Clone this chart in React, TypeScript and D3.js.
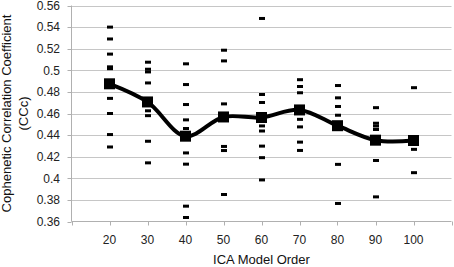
import React from "react";
import * as d3 from "d3";

const orders = [20, 30, 40, 50, 60, 70, 80, 90, 100];
const meanCCc = [0.4875, 0.4707, 0.439, 0.4568, 0.4563, 0.4633, 0.4487, 0.4353, 0.435];

const runs20 = [0.54, 0.529, 0.515, 0.5032, 0.5015, 0.474, 0.46, 0.4405, 0.429];
const runs30 = [0.5075, 0.501, 0.4985, 0.4883, 0.4625, 0.458, 0.4343, 0.4143];
const runs40 = [0.506, 0.4868, 0.4683, 0.4541, 0.4461, 0.4235, 0.4131, 0.3742, 0.3637];
const runs50 = [0.5186, 0.5087, 0.4689, 0.4295, 0.4257, 0.385];
const runs60 = [0.548, 0.4776, 0.4702, 0.4485, 0.4438, 0.4298, 0.4191, 0.3985];
const runs70 = [0.4913, 0.485, 0.4792, 0.4546, 0.4476, 0.4335, 0.4258];
const runs80 = [0.4859, 0.4745, 0.4665, 0.4584, 0.4129, 0.3767];
const runs90 = [0.4654, 0.451, 0.4484, 0.4452, 0.4165, 0.3828];
const runs100 = [0.4839, 0.4268, 0.4052];
const runsByOrder = [runs20, runs30, runs40, runs50, runs60, runs70, runs80, runs90, runs100];

const yTicks = [0.36, 0.38, 0.4, 0.42, 0.44, 0.46, 0.48, 0.5, 0.52, 0.54, 0.56];
const xTickValues = [10, 20, 30, 40, 50, 60, 70, 80, 90, 100, 110];
const xLabels = ["20", "30", "40", "50", "60", "70", "80", "90", "100"];

const W = 454;
const H = 267;
const FONT = "'Liberation Sans', Arial, Helvetica, sans-serif";

export default function App() {
  const x = d3.scaleLinear().domain([10, 110]).range([71.5, 451.5]);
  const y = d3.scaleLinear().domain([0.36, 0.56]).range([221.5, 5.5]);

  const line = d3
    .line<number>()
    .x((_, i) => x(orders[i]))
    .y((d) => y(d))
    .curve(d3.curveCatmullRom.alpha(0.5));

  const gridColor = "#c6c6c6";
  const axisColor = "#b0b0b0";

  return (
    <svg
      width={W}
      height={H}
      style={{ position: "absolute", left: 0, top: 0, background: "#fff" }}
      fontFamily={FONT}
    >
      <rect x={0} y={0} width={W} height={H} fill="#fff" />
      {/* gridlines */}
      {yTicks.slice(1).map((t) => (
        <line key={"g" + t} x1={x(10)} x2={x(110)} y1={Math.round(y(t)) + 0.5} y2={Math.round(y(t)) + 0.5} stroke={gridColor} strokeWidth={1} />
      ))}
      {/* y axis */}
      <line x1={x(10)} x2={x(10)} y1={y(0.56)} y2={y(0.36)} stroke={axisColor} strokeWidth={1} />
      {yTicks.map((t) => (
        <g key={"yt" + t}>
          <line x1={x(10) - 4} x2={x(10)} y1={Math.round(y(t)) + 0.5} y2={Math.round(y(t)) + 0.5} stroke={axisColor} />
          <text x={60} y={y(t)} dy="0.35em" textAnchor="end" fontSize={12} fill="#222">
            {String(t)}
          </text>
        </g>
      ))}
      {/* x axis */}
      <line x1={x(10)} x2={x(110)} y1={y(0.36)} y2={y(0.36)} stroke={axisColor} strokeWidth={1} />
      {xTickValues.map((t) => (
        <line key={"xt" + t} x1={Math.round(x(t)) + 0.5} x2={Math.round(x(t)) + 0.5} y1={y(0.36)} y2={y(0.36) + 4} stroke={axisColor} />
      ))}
      {orders.map((o, i) => (
        <text key={"xl" + o} x={x(o)} y={244} textAnchor="middle" fontSize={12} fill="#222">
          {xLabels[i]}
        </text>
      ))}
      {/* axis titles */}
      <text x={x(60)} y={264} textAnchor="middle" fontSize={13} fill="#111">
        ICA Model Order
      </text>
      <text transform={`translate(11,${(y(0.56) + y(0.36)) / 2}) rotate(-90)`} textAnchor="middle" fontSize={13} fill="#111">
        Cophenetic Correlation Coefficient
      </text>
      <text transform={`translate(28,${(y(0.56) + y(0.36)) / 2}) rotate(-90)`} textAnchor="middle" fontSize={13} fill="#111">
        (CCc)
      </text>
      {/* individual runs */}
      {runsByOrder.map((vals, i) =>
        vals.map((v, j) => (
          <rect key={`r${i}-${j}`} x={x(orders[i]) - 2.5} y={y(v) - 1.5} width={6} height={3} fill="#000" />
        ))
      )}
      {/* mean line */}
      <path d={line(meanCCc) || ""} fill="none" stroke="#000" strokeWidth={4} strokeLinejoin="round" />
      {meanCCc.map((v, i) => (
        <rect key={"m" + i} x={x(orders[i]) - 5.5} y={y(v) - 5.5} width={11} height={11} fill="#000" />
      ))}
    </svg>
  );
}
